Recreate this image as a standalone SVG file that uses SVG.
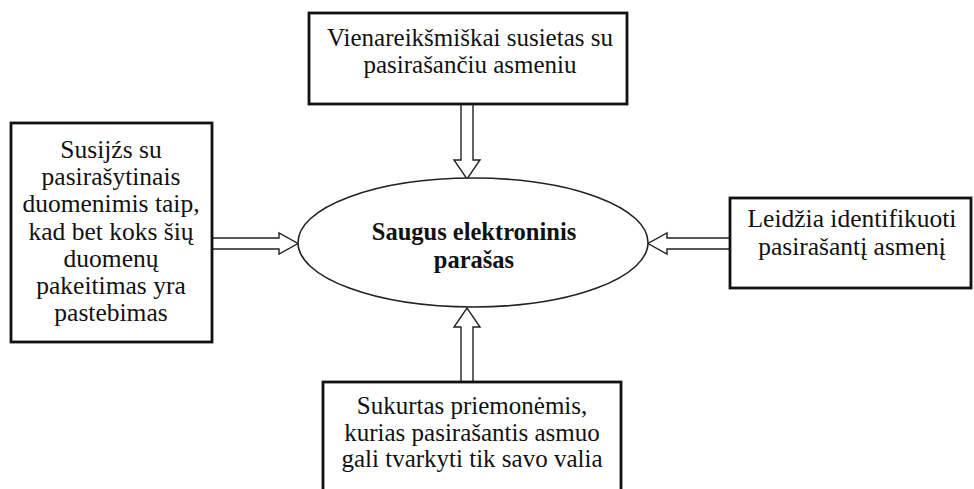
<svg xmlns="http://www.w3.org/2000/svg" width="974" height="489" viewBox="0 0 974 489">
  <style>
    .box { fill: #ffffff; stroke: #111111; stroke-width: 2.8; }
    .hub { fill: #ffffff; stroke: #222222; stroke-width: 1.6; }
    .arrow { fill: #ffffff; stroke: #222222; stroke-width: 1.4; stroke-linejoin: miter; }
    .label { font-family: "Liberation Serif", "Times New Roman", serif; font-size: 25px; fill: #111111; text-anchor: middle; }
    .wide { font-size: 25.5px; }
    .title { font-family: "Liberation Serif", "Times New Roman", serif; font-size: 24.5px; font-weight: bold; fill: #111111; text-anchor: middle; }
  </style>
  <rect width="974" height="489" fill="#ffffff"/>

  <!-- hollow block arrows pointing at the central ellipse -->
  <g id="connectors">
    <path class="arrow" d="M461,105 V160 H454 L467,179 L480,160 H473 V105"/>
    <path class="arrow" d="M461,382 V327 H454 L467,308 L480,327 H473 V382"/>
    <path class="arrow" d="M212,238 H279 V233 L298,243.5 L279,254 V249 H212"/>
    <path class="arrow" d="M730,238 H667 V233 L648,243.5 L667,254 V249 H730"/>
  </g>

  <g id="center">
    <ellipse class="hub" cx="473" cy="242.5" rx="175" ry="64.5"/>
    <text class="title" x="474" y="240">Saugus elektroninis</text>
    <text class="title" x="474" y="268">parašas</text>
  </g>

  <g id="top">
    <rect class="box" x="309" y="13" width="318" height="91"/>
    <text class="label" x="470" y="46">Vienareikšmiškai susietas su</text>
    <text class="label" x="470" y="73">pasirašančiu asmeniu</text>
  </g>

  <g id="left">
    <rect class="box" x="11" y="123" width="201" height="219"/>
    <text class="label wide" x="111" y="158">Susijźs su</text>
    <text class="label wide" x="111" y="185">pasirašytinais</text>
    <text class="label wide" x="111" y="212">duomenimis taip,</text>
    <text class="label wide" x="111" y="240">kad bet koks šių</text>
    <text class="label wide" x="111" y="267">duomenų</text>
    <text class="label wide" x="111" y="294">pakeitimas yra</text>
    <text class="label wide" x="111" y="321">pastebimas</text>
  </g>

  <g id="right">
    <rect class="box" x="730" y="198" width="241" height="90"/>
    <text class="label wide" x="852" y="227">Leidžia identifikuoti</text>
    <text class="label wide" x="852" y="255">pasirašantį asmenį</text>
  </g>

  <g id="bottom">
    <rect class="box" x="323" y="382" width="298" height="120"/>
    <text class="label" x="472" y="414">Sukurtas priemonėmis,</text>
    <text class="label" x="472" y="441">kurias pasirašantis asmuo</text>
    <text class="label" x="472" y="467">gali tvarkyti tik savo valia</text>
  </g>
</svg>
